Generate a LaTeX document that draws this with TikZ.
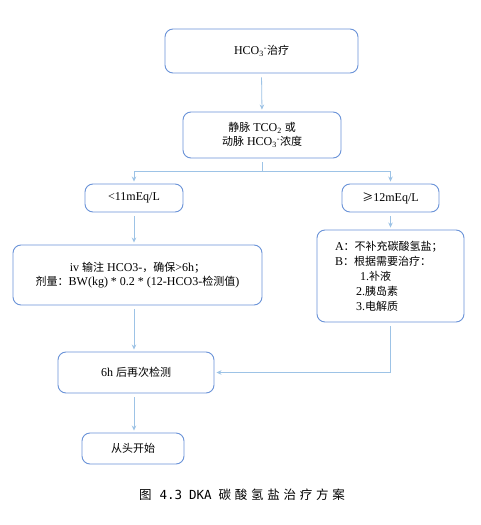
\documentclass[tikz,border=0pt]{standalone}
\usepackage{fontspec}
\setmainfont{Liberation Serif}
\newfontfamily\cjk{Noto Sans CJK SC}
\newfontfamily\capfont[LetterSpace=30]{Noto Sans CJK SC}
\newfontfamily\capmono{DejaVu Sans Mono}
\newcommand\zh[1]{{\cjk\fontsize{11}{14}\selectfont #1}}
\usetikzlibrary{arrows.meta}
\definecolor{boxc}{HTML}{6A93D8}
\definecolor{arrc}{HTML}{9DC3E6}
\tikzset{
  box/.style={draw=boxc, line width=0.9pt, rounded corners=8pt, fill=white,
    align=center, inner sep=0pt, font=\fontsize{12}{14}\selectfont},
  conn/.style={draw=arrc, line width=0.8pt, -{Stealth[length=5pt,width=4.5pt]},
    shorten >=2pt, shorten <=4pt}
}
\begin{document}
\begin{tikzpicture}[x=1pt,y=-1pt]
\fill[white] (0,0) rectangle (480,525);
\useasboundingbox (0,0) rectangle (480,525);

\node[box, minimum width=193pt, minimum height=44pt] (b1) at (261.5,51)
  {HCO\textsubscript{3}\textsuperscript{-}\zh{治疗}};
\node[box, minimum width=158pt, minimum height=46pt] (b2) at (262,135)
  {\zh{静脉} TCO\textsubscript{2} \zh{或}\\\zh{动脉} HCO\textsubscript{3}\textsuperscript{-}\zh{浓度}};
\node[box, minimum width=98pt, minimum height=28pt] (b3) at (134,198)
  {<11mEq/L};
\node[box, minimum width=97pt, minimum height=28pt] (b4) at (390.5,198)
  {\zh{≥}12mEq/L};
\node[box, minimum width=249pt, minimum height=60pt] (b5) at (137.5,275)
  {iv \zh{输注} HCO3-\zh{，确保}>6h\zh{；}\\\zh{剂量：}BW(kg) * 0.2 * (12-HCO3-\zh{检测值})};
\node[box, minimum width=147pt, minimum height=92pt, align=left,
      text width=111pt, inner xsep=18pt, font=\fontsize{12}{15}\selectfont] (b6) at (390.5,276)
  {A\zh{：不补充碳酸氢盐；}\\B\zh{：根据需要治疗：}\\\hspace*{25pt}1.\zh{补液}\\\hspace*{21pt}2.\zh{胰岛素}\\\hspace*{21pt}3.\zh{电解质}};
\node[box, minimum width=156pt, minimum height=41pt] (b7) at (136,372.5)
  {6h \zh{后再次检测}};
\node[box, minimum width=102pt, minimum height=31pt] (b8) at (133,448.5)
  {\zh{从头开始}};

\node[inner sep=0pt, font=\fontsize{12.5}{14}\selectfont] (cap) at (242,495)
  {{\cjk 图}\hspace{8pt}{\capmono 4.3}\hspace{7pt}{\capmono DKA}\hspace{7pt}{\capfont 碳酸氢盐治疗方案}};

\draw[conn] (b1.south) -- (b2.north);
\draw[conn] (b2.south) -- ++(0,13) -| (b3.north);
\draw[conn] (b2.south) -- ++(0,13) -| (b4.north);
\draw[conn] (b3.south) -- (b5.north -| b3.south);
\draw[conn] (b4.south) -- (b6.north -| b4.south);
\draw[conn] (b5.south -| b3.south) -- (b7.north -| b3.south);
\draw[conn] (b6.south) |- (b7.east);
\draw[conn] (b7.south -| b3.south) -- (b8.north -| b3.south);
\end{tikzpicture}
\end{document}
